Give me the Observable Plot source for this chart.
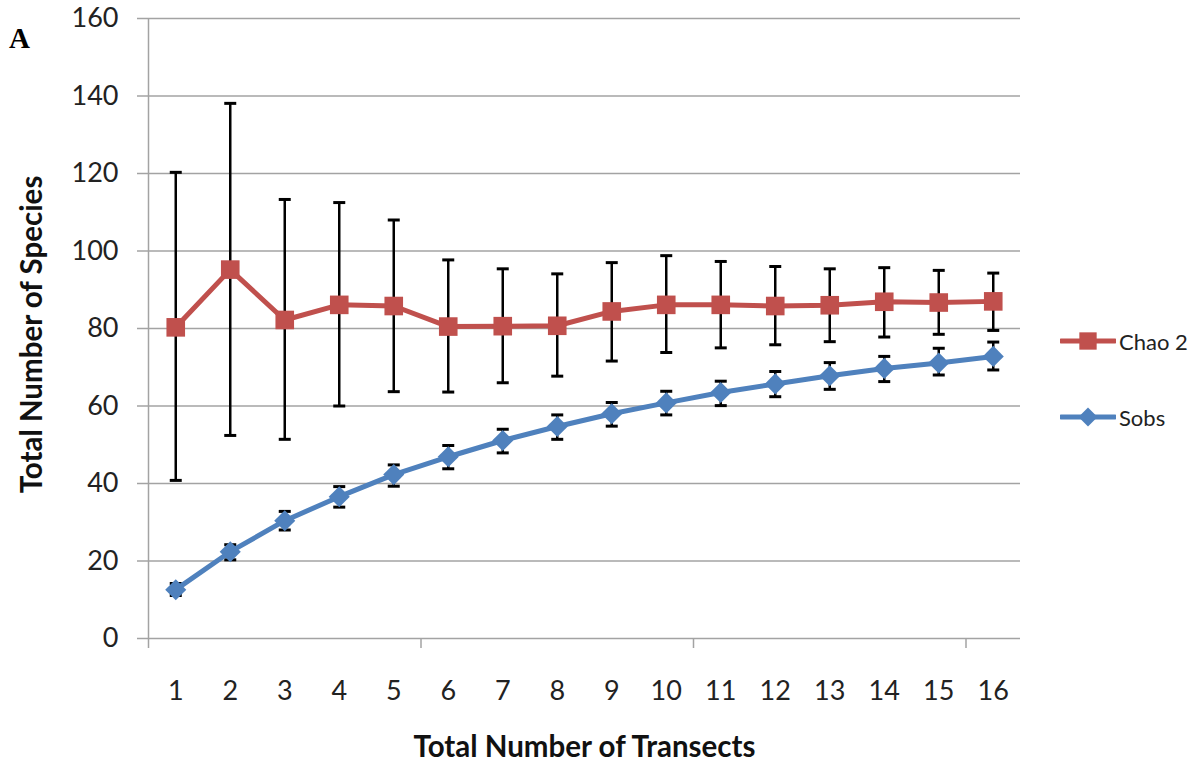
<!DOCTYPE html>
<html>
<head>
<meta charset="utf-8">
<script src="https://cdn.jsdelivr.net/npm/d3@7"></script>
<script src="https://cdn.jsdelivr.net/npm/@observablehq/plot@0.6"></script>
<style>
  html, body { margin: 0; padding: 0; background: #fff; }
  #wrap { position: relative; width: 1200px; height: 763px; font-family: Lato, "Open Sans", sans-serif; }
  #panel { position: absolute; left: 9px; top: 24px; line-height: 1; font-family: "Liberation Serif", "DejaVu Serif", serif; font-weight: bold; font-size: 29px; color: #000; }
  #legend { position: absolute; left: 1060px; top: 326px; font-size: 22px; color: #222; }
  #legend .item { display: flex; align-items: center; height: 30px; margin-bottom: 46px; }
  #legend svg { display: block; margin-right: 3px; }
</style>
</head>
<body>
<div id="wrap">
  <div id="chart"></div>
  <div id="panel">A</div>
  <div id="legend"></div>
</div>
<script>
// Species accumulation across transects: estimated (Chao 2) and observed (Sobs) richness
const transects = [1, 2, 3, 4, 5, 6, 7, 8, 9, 10, 11, 12, 13, 14, 15, 16];

const chao2    = [80.3, 95.2, 82.2, 86.1, 85.8, 80.5, 80.6, 80.7, 84.4, 86.1, 86.1, 85.8, 86.0, 86.9, 86.7, 87.0];
const chao2Lo  = [40.8, 52.4, 51.4, 60.0, 63.7, 63.6, 66.0, 67.7, 71.6, 73.8, 75.0, 75.8, 76.6, 77.8, 78.5, 79.5];
const chao2Hi  = [120.3, 138.1, 113.3, 112.5, 108.0, 97.7, 95.4, 94.1, 97.0, 98.8, 97.3, 96.0, 95.4, 95.7, 95.0, 94.3];

const sobs     = [12.6, 22.4, 30.4, 36.6, 42.3, 46.9, 51.1, 54.7, 58.0, 60.8, 63.5, 65.7, 67.8, 69.7, 71.1, 72.8];
const sobsLo   = [11.1, 20.3, 28.0, 33.9, 39.3, 43.8, 47.9, 51.4, 54.8, 57.7, 60.1, 62.4, 64.3, 66.3, 68.0, 69.3];
const sobsHi   = [14.2, 24.2, 32.8, 39.2, 44.8, 49.8, 54.0, 57.7, 60.9, 63.8, 66.4, 68.9, 71.2, 72.8, 74.9, 76.5];

const yTicks = [0, 20, 40, 60, 80, 100, 120, 140, 160];
const seriesNames = ["Chao 2", "Sobs"];
const seriesColors = ["#C0504D", "#4F81BD"];

// category axis: each transect sits in the middle of its slot; tick marks every 5 slots
const xDomain = [transects[0] - 0.5, transects[transects.length - 1] + 0.5];
const slotMarks = transects.filter((t, i) => i % 5 === 0).map(t => t - 0.5);

const rows = (name, v, lo, hi) => transects.map((t, i) => ({t, series: name, value: v[i], lo: lo[i], hi: hi[i]}));
const chaoRows = rows(seriesNames[0], chao2, chao2Lo, chao2Hi);
const sobsRows = rows(seriesNames[1], sobs, sobsLo, sobsHi);

// horizontal cap for error bars
const cap = {
  draw(ctx, size) {
    const r = Math.sqrt(size / Math.PI);
    ctx.moveTo(-r, 0);
    ctx.lineTo(r, 0);
  }
};

const errorBars = (data) => [
  Plot.ruleX(data, {x: "t", y1: "lo", y2: "hi", stroke: "#000", strokeWidth: 2.5}),
  Plot.dot(data, {x: "t", y: "lo", symbol: cap, r: 6, fill: "none", stroke: "#000", strokeWidth: 3}),
  Plot.dot(data, {x: "t", y: "hi", symbol: cap, r: 6, fill: "none", stroke: "#000", strokeWidth: 3})
];

const gridColor = "#a3a3a3";

const chart = Plot.plot({
  width: 1200,
  height: 763,
  marginLeft: 148,
  marginRight: 180,
  marginTop: 18,
  marginBottom: 125,
  style: {fontFamily: "Lato, 'Open Sans', sans-serif", background: "#fff", color: "#222"},
  x: {domain: xDomain},
  y: {domain: [yTicks[0], yTicks[yTicks.length - 1]]},
  marks: [
    Plot.gridY(yTicks, {stroke: gridColor, strokeOpacity: 1, strokeWidth: 1.5}),
    Plot.axisY(yTicks, {tickSize: 11, tickPadding: 19, stroke: gridColor, strokeWidth: 1.5, fill: "#222", fontSize: 27, label: null}),
    Plot.ruleX([xDomain[0]], {y1: yTicks[0], y2: yTicks[yTicks.length - 1], stroke: gridColor, strokeWidth: 1.5}),
    Plot.axisX(slotMarks, {tickSize: 10, stroke: gridColor, strokeWidth: 1.5, tickFormat: () => "", label: null}),
    Plot.axisX(transects, {tickSize: 0, tickPadding: 42, fill: "#222", fontSize: 27, label: null}),

    // observed richness
    ...errorBars(sobsRows),
    Plot.line(sobsRows, {x: "t", y: "value", stroke: seriesColors[1], strokeWidth: 5}),
    Plot.dot(sobsRows, {x: "t", y: "value", symbol: "diamond2", r: 9.5, fill: seriesColors[1], stroke: "none"}),

    // Chao 2 estimate
    ...errorBars(chaoRows),
    Plot.line(chaoRows, {x: "t", y: "value", stroke: seriesColors[0], strokeWidth: 5}),
    Plot.dot(chaoRows, {x: "t", y: "value", symbol: "square", r: 10.5, fill: seriesColors[0], stroke: "none"}),

    // axis titles
    Plot.text(["Total Number of Transects"], {frameAnchor: "bottom", textAnchor: "middle", lineAnchor: "middle", dy: 109, fontSize: 29.5, fontWeight: "bold", fill: "#111"}),
    Plot.text(["Total Number of Species"], {frameAnchor: "left", textAnchor: "middle", lineAnchor: "middle", dx: -116, dy: 6, rotate: -90, fontSize: 29.5, fontWeight: "bold", fill: "#111"})
  ]
});
document.getElementById("chart").append(chart);

// legend: line with marker, then name
const legend = d3.select("#legend");
const symbols = [d3.symbolSquare, d3.symbolDiamond2];
const symbolSizes = [300, 230];
seriesNames.forEach((name, i) => {
  const item = legend.append("div").attr("class", "item");
  const svg = item.append("svg").attr("width", 56).attr("height", 24);
  svg.append("line").attr("x1", 1).attr("x2", 55).attr("y1", 12).attr("y2", 12)
    .attr("stroke", seriesColors[i]).attr("stroke-width", 5).attr("stroke-linecap", "round");
  svg.append("path").attr("transform", "translate(28,12)")
    .attr("d", d3.symbol(symbols[i], symbolSizes[i])()).attr("fill", seriesColors[i]);
  item.append("span").text(name);
});
</script>
</body>
</html>
